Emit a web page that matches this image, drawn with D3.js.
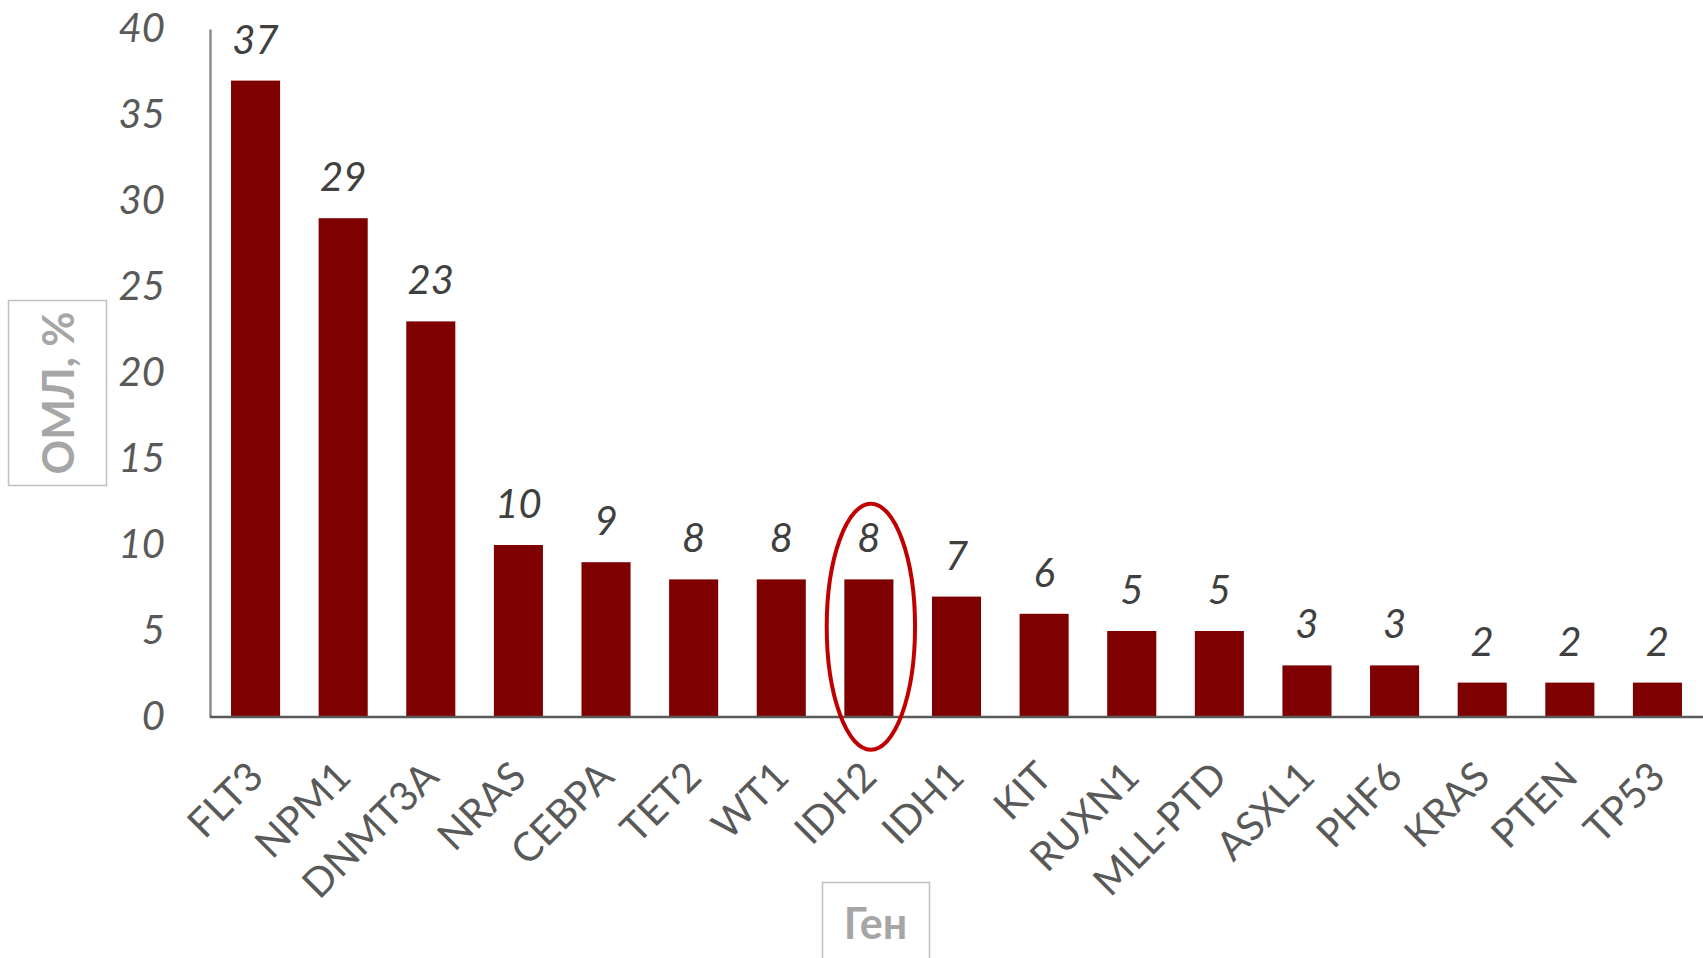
<!DOCTYPE html>
<html>
<head>
<meta charset="utf-8">
<script src="https://cdn.jsdelivr.net/npm/d3@7"></script>
<style>
  html, body { margin: 0; padding: 0; background: #fff; }
  svg { display: block; }
</style>
</head>
<body>
<svg id="chart" width="1703" height="958"></svg>
<script>
// Mutation frequencies in AML by gene
const genes = ["FLT3", "NPM1", "DNMT3A", "NRAS", "CEBPA", "TET2", "WT1", "IDH2", "IDH1",
               "KIT", "RUXN1", "MLL-PTD", "ASXL1", "PHF6", "KRAS", "PTEN", "TP53"];
const values = [37, 29, 23, 10, 9, 8, 8, 8, 7, 6, 5, 5, 3, 3, 2, 2, 2];
const yTicks = [0, 5, 10, 15, 20, 25, 30, 35, 40];
const yTitle = "ОМЛ, %";
const xTitle = "Ген";
const highlighted = "IDH2";

const W = 1703, H = 958;
const baseY = 717, topY = 29, axisX = 210;
const FONT = "Lato, 'Open Sans', sans-serif";
const barColor = "#7f0000";

const svg = d3.select("#chart");

const x = d3.scaleBand()
  .domain(genes)
  .range([axisX, W])
  .paddingInner(0.44)
  .paddingOuter(0.24);

const y = d3.scaleLinear()
  .domain([0, 40])
  .range([baseY, topY]);

// Y axis: grey line with italic tick labels, no tick marks
const yAxis = svg.append("g")
  .attr("transform", `translate(${axisX},0)`)
  .call(d3.axisLeft(y).tickValues(yTicks).tickSize(0).tickPadding(45));
yAxis.select(".domain").attr("stroke", "#8c8c8c").attr("stroke-width", 2.5);
yAxis.selectAll(".tick text")
  .attr("fill", "#595959")
  .style("font-family", FONT)
  .style("font-style", "italic")
  .style("font-size", "40px");

// Bars
svg.append("g")
  .selectAll("rect")
  .data(genes)
  .join("rect")
  .attr("x", (d) => x(d))
  .attr("y", (d, i) => y(values[i]))
  .attr("width", x.bandwidth())
  .attr("height", (d, i) => y(0) - y(values[i]))
  .attr("fill", barColor);

// X axis: baseline and rotated gene names
const xAxis = svg.append("g")
  .attr("transform", `translate(0,${baseY})`)
  .call(d3.axisBottom(x).tickSize(0).tickSizeOuter(0));
xAxis.select(".domain")
  .attr("d", `M${axisX},0H${W}`)
  .attr("stroke", "#595959").attr("stroke-width", 2.5);
xAxis.selectAll(".tick text")
  .attr("x", 0).attr("y", 0).attr("dy", null)
  .attr("transform", "translate(10,62) rotate(-45)")
  .attr("text-anchor", "end")
  .attr("fill", "#595959")
  .style("font-family", FONT)
  .style("font-size", "40px");

// Value labels above bars
svg.append("g")
  .selectAll("text")
  .data(genes)
  .join("text")
  .attr("x", (d) => x(d) + x.bandwidth() / 2)
  .attr("y", (d, i) => y(values[i]) - 27)
  .attr("text-anchor", "middle")
  .attr("fill", "#404040")
  .style("font-family", FONT)
  .style("font-style", "italic")
  .style("font-size", "40px")
  .text((d, i) => values[i]);

// Red ellipse around the highlighted gene
const hx = x(highlighted) + x.bandwidth() / 2;
const eTop = y(12.4), eBottom = y(-1.9);
svg.append("ellipse")
  .attr("cx", hx + 2)
  .attr("cy", (eTop + eBottom) / 2)
  .attr("rx", x.bandwidth() * 0.9)
  .attr("ry", (eBottom - eTop) / 2)
  .attr("fill", "none")
  .attr("stroke", "#c00000")
  .attr("stroke-width", 4);

// Axis titles in bordered boxes
const yBox = svg.append("g");
yBox.append("rect")
  .attr("x", 8.5).attr("y", 300.5).attr("width", 98).attr("height", 185)
  .attr("fill", "#fff").attr("stroke", "#bfbfbf").attr("stroke-width", 1.5);
yBox.append("text")
  .attr("transform", "translate(57,393) rotate(-90)")
  .attr("text-anchor", "middle")
  .attr("dominant-baseline", "central")
  .attr("fill", "#a6a6a6")
  .style("font-family", FONT)
  .style("font-weight", "bold")
  .style("font-size", "43px")
  .text(yTitle);

const xBox = svg.append("g");
xBox.append("rect")
  .attr("x", 822.5).attr("y", 882.5).attr("width", 107).attr("height", 90)
  .attr("fill", "#fff").attr("stroke", "#bfbfbf").attr("stroke-width", 1.5);
xBox.append("text")
  .attr("x", 875.5).attr("y", 939)
  .attr("text-anchor", "middle")
  .attr("fill", "#a6a6a6")
  .style("font-family", FONT)
  .style("font-weight", "bold")
  .style("font-size", "43px")
  .text(xTitle);
</script>
</body>
</html>
